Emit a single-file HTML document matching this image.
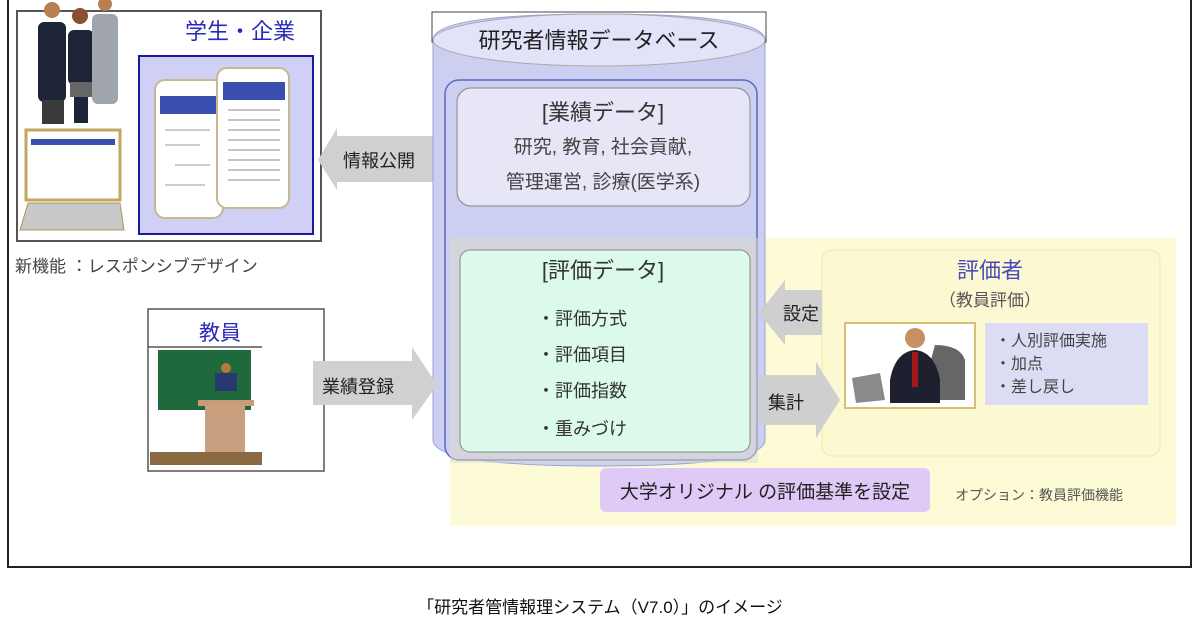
<!DOCTYPE html>
<html><head><meta charset="utf-8"><style>
html,body{margin:0;padding:0;background:#fff;}
svg{display:block;}
text{font-family:"Liberation Sans","Noto Sans CJK JP",sans-serif;}
</style></head><body>
<svg width="1200" height="628" viewBox="0 0 1200 628" xmlns="http://www.w3.org/2000/svg">
<path d="M8 0 V567 H1191 V0" fill="none" stroke="#222" stroke-width="2"/>

<rect x="17" y="11" width="304" height="230" fill="#fff" stroke="#555" stroke-width="2"/>
<text x="240" y="39" font-size="22" fill="#2a2ab8" text-anchor="middle">学生・企業</text>
<rect x="139" y="56" width="174" height="178" fill="#d0d0f6" stroke="#1a1a9a" stroke-width="2"/>
<rect x="155" y="80" width="68" height="138" rx="10" fill="#fff" stroke="#c8b890" stroke-width="2"/>
<rect x="160" y="96" width="58" height="18" fill="#3a50b0"/>
<g stroke="#999" stroke-width="1"><line x1="165" y1="130" x2="210" y2="130"/><line x1="165" y1="145" x2="200" y2="145"/><line x1="175" y1="165" x2="210" y2="165"/><line x1="165" y1="185" x2="205" y2="185"/></g>
<rect x="217" y="68" width="72" height="140" rx="10" fill="#fff" stroke="#c8b890" stroke-width="2"/>
<rect x="223" y="82" width="62" height="18" fill="#3a50b0"/>
<g stroke="#888" stroke-width="1"><line x1="228" y1="110" x2="280" y2="110"/><line x1="228" y1="120" x2="280" y2="120"/><line x1="228" y1="130" x2="280" y2="130"/><line x1="228" y1="140" x2="280" y2="140"/><line x1="228" y1="150" x2="280" y2="150"/><line x1="228" y1="160" x2="280" y2="160"/><line x1="228" y1="170" x2="280" y2="170"/><line x1="228" y1="180" x2="280" y2="180"/></g>
<rect x="38" y="22" width="28" height="80" rx="6" fill="#1e2438"/>
<rect x="42" y="100" width="22" height="24" fill="#3a3a3a"/>
<circle cx="52" cy="10" r="8" fill="#b88050"/>
<rect x="68" y="30" width="26" height="55" rx="6" fill="#1e2438"/>
<rect x="70" y="82" width="22" height="15" fill="#666"/>
<rect x="74" y="97" width="14" height="26" fill="#1e2438"/>
<circle cx="80" cy="16" r="8" fill="#8a5030"/>
<rect x="92" y="14" width="26" height="90" rx="6" fill="#a0a4ac"/>
<circle cx="105" cy="4" r="7" fill="#b88050"/>
<rect x="26" y="130" width="94" height="70" fill="#fff" stroke="#c0a860" stroke-width="3"/>
<rect x="31" y="139" width="84" height="6" fill="#3a50b0"/>
<path d="M20 230 L28 203 H120 L124 230 Z" fill="#c8c8c8" stroke="#b09850"/>
<text x="15" y="272" font-size="17" fill="#444">新機能 ：レスポンシブデザイン</text>

<path d="M437 136 H337 V128 L318 160 L337 190 V182 H437 Z" fill="#d0d0d0"/>
<text x="343" y="167" font-size="18" fill="#222">情報公開</text>

<rect x="450" y="238" width="726" height="288" fill="#fdfad6"/>

<path d="M433 40 Q433 14 600 14 Q765 14 765 40 V440 Q765 466 600 466 Q433 466 433 440 Z" fill="#cdcff0" stroke="#9aa0d8" stroke-width="1"/>
<rect x="432" y="12" width="334" height="30" fill="none" stroke="#444" stroke-width="1"/>
<ellipse cx="599" cy="40" rx="166" ry="26" fill="#e2e3f8" stroke="#aaa"/>
<text x="599" y="48" font-size="22" fill="#222" text-anchor="middle">研究者情報データベース</text>
<rect x="445" y="80" width="312" height="380" rx="14" fill="#cdcff0" stroke="#5a6ac0" stroke-width="1.5"/>
<rect x="457" y="88" width="293" height="118" rx="14" fill="#e6e6f7" stroke="#888"/>
<text x="603" y="120" font-size="22" fill="#333" text-anchor="middle">[業績データ]</text>
<text x="603" y="153" font-size="19" fill="#444" text-anchor="middle">研究, 教育, 社会貢献,</text>
<text x="603" y="188" font-size="19" fill="#444" text-anchor="middle">管理運営, 診療(医学系)</text>
<rect x="450" y="238" width="308" height="225" fill="#dcdcc8" opacity="0.5"/>
<rect x="460" y="250" width="290" height="202" rx="10" fill="#dcfaec" stroke="#888"/>
<text x="603" y="278" font-size="22" fill="#333" text-anchor="middle">[評価データ]</text>
<text x="537" y="325" font-size="18" fill="#333">・評価方式</text>
<text x="537" y="361" font-size="18" fill="#333">・評価項目</text>
<text x="537" y="397" font-size="18" fill="#333">・評価指数</text>
<text x="537" y="435" font-size="18" fill="#333">・重みづけ</text>

<rect x="822" y="250" width="338" height="206" rx="10" fill="#fcf8d2" stroke="#eee9b0"/>
<text x="990" y="278" font-size="22" fill="#4a4ab8" text-anchor="middle">評価者</text>
<text x="990" y="306" font-size="17" fill="#555" text-anchor="middle">（教員評価）</text>
<rect x="845" y="323" width="130" height="85" fill="#fff" stroke="#d8c070" stroke-width="2"/>
<path d="M935 345 Q960 345 965 360 V400 H920 Z" fill="#666"/>
<path d="M890 380 Q895 352 915 350 Q935 352 940 380 V403 H890 Z" fill="#1e2030"/>
<rect x="912" y="352" width="6" height="35" fill="#a01818"/>
<circle cx="915" cy="338" r="10" fill="#c89060"/>
<path d="M852 378 L880 373 L885 400 L856 403 Z" fill="#8a8a8a"/>
<rect x="985" y="323" width="163" height="82" fill="#dcdcf5"/>
<text x="995" y="346" font-size="16" fill="#444">・人別評価実施</text>
<text x="995" y="369" font-size="16" fill="#444">・加点</text>
<text x="995" y="392" font-size="16" fill="#444">・差し戻し</text>

<path d="M822 290 H785 V280 L759 313 L785 345 V335 H822 Z" fill="#cfcfcf"/>
<text x="783" y="320" font-size="18" fill="#222">設定</text>
<path d="M759 375 H816 V362 L840 400 L816 438 V425 H759 Z" fill="#cfcfcf"/>
<text x="768" y="409" font-size="18" fill="#222">集計</text>

<rect x="600" y="468" width="330" height="44" rx="6" fill="#dfc9f6"/>
<text x="765" y="498" font-size="19" fill="#222" text-anchor="middle">大学オリジナル の評価基準を設定</text>
<text x="955" y="500" font-size="14" fill="#555">オプション：教員評価機能</text>

<rect x="148" y="309" width="176" height="162" fill="#fff" stroke="#555" stroke-width="1.5"/>
<line x1="148" y1="347" x2="262" y2="347" stroke="#555" stroke-width="1.5"/>
<text x="220" y="340" font-size="21" fill="#2a2ab8" text-anchor="middle">教員</text>
<rect x="158" y="350" width="93" height="60" fill="#1e6a3c"/>
<circle cx="226" cy="368" r="5" fill="#b87840"/>
<rect x="215" y="373" width="22" height="18" fill="#283870"/>
<rect x="198" y="400" width="56" height="6" fill="#c89a78"/>
<rect x="205" y="405" width="40" height="55" fill="#c8a080"/>
<rect x="150" y="452" width="112" height="13" fill="#8a6a40"/>

<path d="M313 361 H412 V347 L437 385 L412 420 V405 H313 Z" fill="#d0d0d0"/>
<text x="322" y="393" font-size="18" fill="#222">業績登録</text>

<text x="600" y="613" font-size="17" fill="#111" text-anchor="middle">「研究者管情報理システム（V7.0）」のイメージ</text>
</svg>
</body></html>
